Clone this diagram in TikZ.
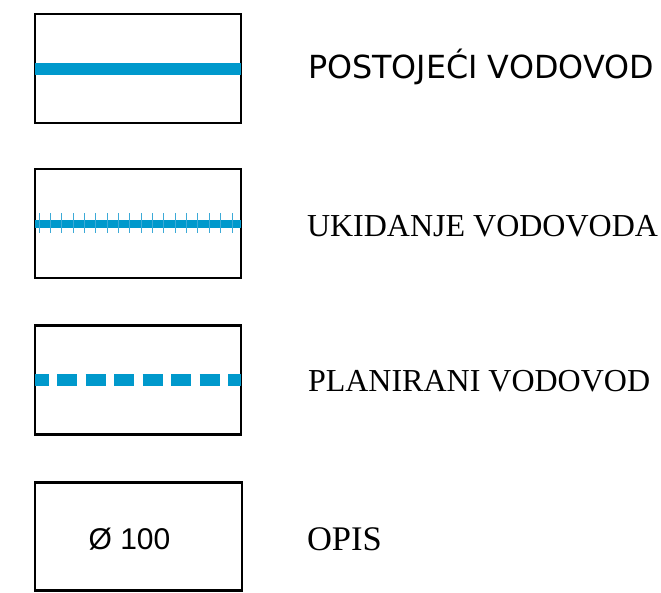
\documentclass[tikz,border=0pt]{standalone}
\usepackage{fontspec}
\usetikzlibrary{calc}
\setmainfont{Liberation Serif}
\newfontfamily\verd{DejaVu Sans}
\newfontfamily\arl{Liberation Sans}
\definecolor{pipe}{RGB}{0,153,204}
\definecolor{tick}{RGB}{60,170,215}
\begin{document}
\begin{tikzpicture}[x=1pt,y=-1pt,
  legbox/.style={draw=black,line width=2.2pt,minimum width=206pt,minimum height=109pt,inner sep=0pt,outer sep=0pt},
  label/.style={anchor=base west,inner sep=0pt,outer sep=0pt},
  pipeline/.style={draw=pipe,line cap=butt}]
\useasboundingbox (0,0) rectangle (661,592);
\node[legbox] (b1) at (138,68.5) {};
\node[legbox] (b2) at (138,223.5) {};
\node[legbox] (b3) at (138,380) {};
\node[legbox,minimum width=207pt,minimum height=108pt] (b4) at (138.5,536.5) {};
% existing
\draw[pipeline,line width=12pt] (b1.west) -- (b1.east);
% removal
\draw[pipeline,line width=8pt] ([yshift=-0.5pt]b2.west) -- ([yshift=-0.5pt]b2.east);
\foreach \k in {0,...,17}{
  \draw[tick,line width=0.9pt] ($(b2.west)+(4+11.35*\k,-10.5)$) -- ++(0,20);
}
% planned
\draw[pipeline,line width=11.5pt,dash pattern=on 20pt off 8.5pt,dash phase=6.3pt] (b3.west) -- (b3.east);
% texts
\node[label,font=\verd\fontsize{31.8}{36}\selectfont] (t1) at (308,78.3) {POSTOJEĆI VODOVOD};
\node[label,font=\fontsize{32}{38}\selectfont] (t2) at (307,236.7) {UKIDANJE VODOVODA};
\node[label,font=\fontsize{32}{38}\selectfont] (t3) at (308,391.7) {PLANIRANI VODOVOD};
\node[label,font=\fontsize{34.5}{40}\selectfont] (t4) at (307,550.7) {OPIS};
\node[anchor=base,inner sep=0pt,font=\arl\fontsize{30}{36}\selectfont] (d4) at ($(b4.center)+(-9,12.8)$) {Ø 100};
\end{tikzpicture}
\end{document}
